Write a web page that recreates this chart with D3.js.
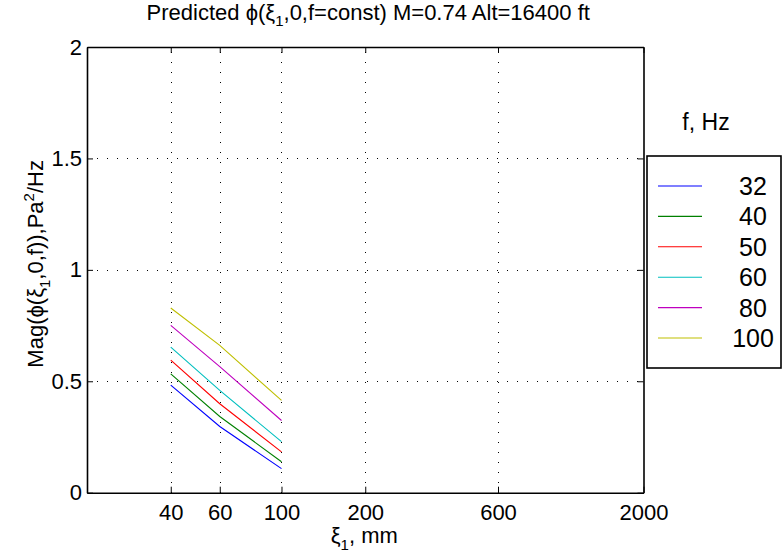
<!DOCTYPE html>
<html>
<head>
<meta charset="utf-8">
<script src="https://cdn.jsdelivr.net/npm/d3@7"></script>
<style>
  body { margin: 0; background: #fff; }
  svg { display: block; font-family: "Liberation Sans", Arial, Helvetica, sans-serif; }
</style>
</head>
<body>
<svg id="chart" width="783" height="560"></svg>
<script>
// ---- data ----
const distances = [40, 60, 100];               // xi_1, mm
const frequencies = ["32", "40", "50", "60", "80", "100"];  // f, Hz
const seriesColors = ["#0000ff", "#008000", "#ff0000", "#00bfbf", "#bf00bf", "#bfbf00"];
const mag32  = [0.483, 0.297, 0.108];
const mag40  = [0.533, 0.342, 0.139];
const mag50  = [0.595, 0.399, 0.183];
const mag60  = [0.653, 0.459, 0.229];
const mag80  = [0.751, 0.566, 0.324];
const mag100 = [0.829, 0.661, 0.414];
const seriesValues = [mag32, mag40, mag50, mag60, mag80, mag100];
const xTicks = [40, 60, 100, 200, 600, 2000];
const yTicks = [0, 0.5, 1, 1.5, 2];

// ---- layout ----
const svg = d3.select("#chart");
const L = 87, R = 643.5, T = 47, B = 492.7;
const x = d3.scaleLog().domain([20, 2000]).range([L, R]);
const y = d3.scaleLinear().domain([0, 2]).range([B, T]);
const FONT = "Liberation Sans, Arial, sans-serif";
const PHI = "\u03d5";

// grid
const grid = svg.append("g").attr("stroke", "#000").attr("stroke-width", 1)
  .attr("stroke-dasharray", "1,9").attr("shape-rendering", "crispEdges");
xTicks.filter(v => v < 2000).forEach(v => {
  grid.append("line").attr("x1", Math.round(x(v)) + 0.5).attr("x2", Math.round(x(v)) + 0.5)
    .attr("y1", B).attr("y2", T);
});
yTicks.filter(v => v > 0 && v < 2).forEach(v => {
  grid.append("line").attr("y1", Math.round(y(v)) + 0.5).attr("y2", Math.round(y(v)) + 0.5)
    .attr("x1", L).attr("x2", R);
});

// axes (MATLAB style inward ticks)
const tickLen = 6;
const xAxisB = d3.axisBottom(x).tickValues(xTicks).tickFormat(d3.format("d"))
  .tickSizeInner(-tickLen).tickSizeOuter(0).tickPadding(12);
const xAxisT = d3.axisTop(x).tickValues(xTicks).tickFormat("")
  .tickSizeInner(-tickLen).tickSizeOuter(0);
const yAxisL = d3.axisLeft(y).tickValues(yTicks)
  .tickFormat(d => Number.isInteger(d) ? d3.format("d")(d) : d3.format(".1f")(d))
  .tickSizeInner(-tickLen).tickSizeOuter(0).tickPadding(5);
const yAxisR = d3.axisRight(y).tickValues(yTicks).tickFormat("")
  .tickSizeInner(-tickLen).tickSizeOuter(0);

function styleAxis(g) {
  g.select(".domain").attr("stroke", "#000").attr("stroke-width", 1.6);
  g.selectAll(".tick line").attr("stroke", "#000").attr("stroke-width", 1);
  g.selectAll(".tick text").attr("fill", "#000").attr("font-size", 22).attr("font-family", FONT);
}
svg.append("g").attr("transform", `translate(0,${B})`).call(xAxisB).call(styleAxis);
svg.append("g").attr("transform", `translate(0,${T})`).call(xAxisT).call(styleAxis);
svg.append("g").attr("transform", `translate(${L},0)`).call(yAxisL).call(styleAxis);
svg.append("g").attr("transform", `translate(${R},0)`).call(yAxisR).call(styleAxis);

// lines
const line = d3.line().x((d, i) => x(distances[i])).y(d => y(d));
seriesValues.forEach((vals, k) => {
  svg.append("path").datum(vals).attr("d", line)
    .attr("fill", "none").attr("stroke", seriesColors[k]).attr("stroke-width", 1.1);
});

// title
const title = svg.append("text").attr("x", (L + R) / 2 + 3).attr("y", 20)
  .attr("text-anchor", "middle").attr("font-size", 22).attr("fill", "#000");
title.append("tspan").text("Predicted " + PHI + "(\u03be");
title.append("tspan").attr("font-size", 15).attr("dy", 6).text("1");
title.append("tspan").attr("dy", -6).text(",0,f=const) M=0.74 Alt=16400 ft");

// x label
const xl = svg.append("text").attr("x", (L + R) / 2 - 1).attr("y", 543)
  .attr("text-anchor", "middle").attr("font-size", 22).attr("fill", "#000");
xl.append("tspan").text("\u03be");
xl.append("tspan").attr("font-size", 15).attr("dy", 7).text("1");
xl.append("tspan").attr("dy", -7).text(", mm");

// y label
const yl = svg.append("text").attr("transform", `translate(43,${(T + B) / 2 - 6})rotate(-90)`)
  .attr("text-anchor", "middle").attr("font-size", 22).attr("fill", "#000");
yl.append("tspan").text("Mag(" + PHI + "(\u03be");
yl.append("tspan").attr("font-size", 15).attr("dy", 7).text("1");
yl.append("tspan").attr("dy", -7).text(",0,f)),Pa");
yl.append("tspan").attr("font-size", 15).attr("dy", -9).text("2");
yl.append("tspan").attr("dy", 9).text("/Hz");

// legend
svg.append("text").attr("x", 706).attr("y", 130).attr("text-anchor", "middle")
  .attr("font-size", 23).attr("fill", "#000").text("f, Hz");
const lg = svg.append("g");
lg.append("rect").attr("x", 647).attr("y", 156).attr("width", 134).attr("height", 212)
  .attr("fill", "#fff").attr("stroke", "#000").attr("stroke-width", 1.6);
frequencies.forEach((f, i) => {
  const yy = 186 + i * 30.4;
  lg.append("line").attr("x1", 658).attr("x2", 702).attr("y1", yy).attr("y2", yy)
    .attr("stroke", seriesColors[i]).attr("stroke-width", 1.1);
  lg.append("text").attr("x", 753).attr("y", yy + 9).attr("text-anchor", "middle")
    .attr("font-size", 25).attr("fill", "#000").text(f);
});
</script>
</body>
</html>
